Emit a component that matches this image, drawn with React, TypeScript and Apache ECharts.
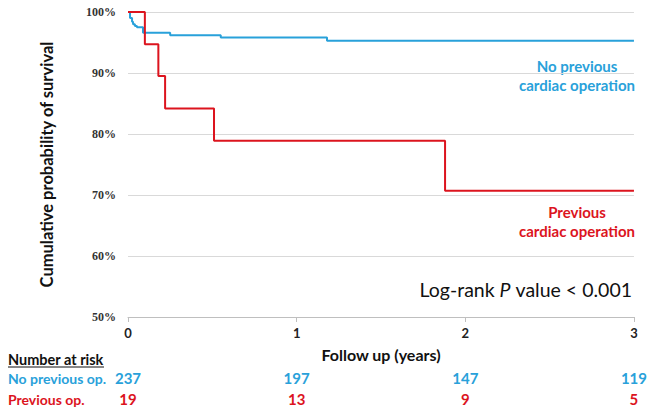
import React, { useEffect, useRef } from "react";
import * as echarts from "echarts";

const xTicks = [0, 1, 2, 3];
const noPrevTimes = [0, 0.012, 0.024, 0.03, 0.041, 0.053, 0.089, 0.25, 0.55, 1.18, 3];
const noPrevSurv = [100, 99.0, 98.4, 98.0, 97.7, 97.5, 96.6, 96.2, 95.8, 95.3, 95.3];
const prevTimes = [0, 0.1, 0.18, 0.22, 0.51, 1.88, 3];
const prevSurv = [100, 94.7, 89.5, 84.2, 78.9, 70.7, 70.7];
const atRiskNoPrev = [237, 197, 147, 119];
const atRiskPrev = [19, 13, 9, 5];

const BLUE = "#29a1da";
const RED = "#dc141e";
const SANS = "Lato, 'Liberation Sans', sans-serif";

export default function App() {
  const ref = useRef<HTMLDivElement>(null);
  useEffect(() => {
    if (!ref.current) return;
    const chart = echarts.init(ref.current, null, { renderer: "svg" });
    const riskAxis = (vals: number[], color: string, offset: number) => ({
      type: "value",
      gridIndex: 0,
      position: "bottom",
      offset,
      min: 0,
      max: 3,
      interval: 1,
      axisLine: { show: false },
      axisTick: { show: false },
      splitLine: { show: false },
      axisLabel: {
        margin: 0,
        color,
        fontFamily: SANS,
        fontWeight: "bold",
        fontSize: 15,
        showMinLabel: true,
        showMaxLabel: true,
        formatter: (v: number) => String(vals[xTicks.indexOf(v)] ?? ""),
      },
    });
    chart.setOption({
      animation: false,
      backgroundColor: "#ffffff",
      grid: { left: 128, right: 14, top: 12, bottom: 92 },
      xAxis: [
        {
          type: "value",
          min: 0,
          max: 3,
          interval: 1,
          name: "Follow up (years)",
          nameLocation: "middle",
          nameGap: 29,
          nameTextStyle: { fontFamily: SANS, fontWeight: "bold", fontSize: 16, color: "#111" },
          axisLine: { lineStyle: { color: "#bfbfbf" } },
          axisTick: { show: true, length: 5, lineStyle: { color: "#bfbfbf" } },
          splitLine: { show: false },
          axisLabel: { margin: 9, fontFamily: SANS, fontWeight: "bold", fontSize: 13, color: "#222" },
        },
        riskAxis(atRiskNoPrev, BLUE, 53),
        riskAxis(atRiskPrev, RED, 74),
      ],
      yAxis: {
        type: "value",
        min: 50,
        max: 100,
        interval: 10,
        name: "Cumulative probability of survival",
        nameLocation: "middle",
        nameGap: 73,
        nameTextStyle: { fontFamily: SANS, fontWeight: "bold", fontSize: 16.5, color: "#111" },
        axisLine: { show: false },
        axisTick: { show: false },
        splitLine: { lineStyle: { color: "#d9d9d9" } },
        axisLabel: {
          margin: 12,
          fontFamily: "'Liberation Serif', serif",
          fontWeight: "bold",
          fontSize: 12,
          color: "#333",
          formatter: (v: number) => `${v}%`,
        },
      },
      series: [
        {
          type: "line",
          step: "end",
          symbol: "none",
          lineStyle: { color: BLUE, width: 2 },
          data: noPrevTimes.map((t, i) => [t, noPrevSurv[i]]),
        },
        {
          type: "line",
          step: "end",
          symbol: "none",
          lineStyle: { color: RED, width: 2 },
          data: prevTimes.map((t, i) => [t, prevSurv[i]]),
        },
      ],
      graphic: [
        {
          type: "text",
          x: 577,
          y: 56,
          style: {
            text: "No previous\ncardiac operation",
            fill: BLUE,
            font: `bold 15px ${SANS}`,
            align: "center",
            verticalAlign: "top",
            lineHeight: 19,
          },
        },
        {
          type: "text",
          x: 577,
          y: 202,
          style: {
            text: "Previous\ncardiac operation",
            fill: RED,
            font: `bold 15px ${SANS}`,
            align: "center",
            verticalAlign: "top",
            lineHeight: 19,
          },
        },
        {
          type: "text",
          x: 632,
          y: 289,
          style: {
            text: "{a|Log-rank }{b|P}{a| value < 0.001}",
            align: "right",
            verticalAlign: "middle",
            rich: {
              a: { fontFamily: SANS, fontSize: 19.5, fill: "#111", color: "#111" },
              b: { fontFamily: SANS, fontSize: 19.5, fontStyle: "italic", fill: "#111", color: "#111" },
            },
          },
        },
        {
          type: "text",
          x: 8,
          y: 359,
          style: { text: "Number at risk", fill: "#111", font: `bold 14.5px ${SANS}`, verticalAlign: "middle" },
        },
        {
          type: "line",
          shape: { x1: 8, y1: 367, x2: 104, y2: 367 },
          style: { stroke: "#111", lineWidth: 1 },
        },
        {
          type: "text",
          x: 8,
          y: 378,
          style: { text: "No previous op.", fill: BLUE, font: `bold 14px ${SANS}`, verticalAlign: "middle" },
        },
        {
          type: "text",
          x: 8,
          y: 399,
          style: { text: "Previous op.", fill: RED, font: `bold 14px ${SANS}`, verticalAlign: "middle" },
        },
      ],
    });
    return () => chart.dispose();
  }, []);
  return (
    <div
      ref={ref}
      style={{ position: "absolute", left: 0, top: 0, width: 650, height: 409 }}
    />
  );
}
